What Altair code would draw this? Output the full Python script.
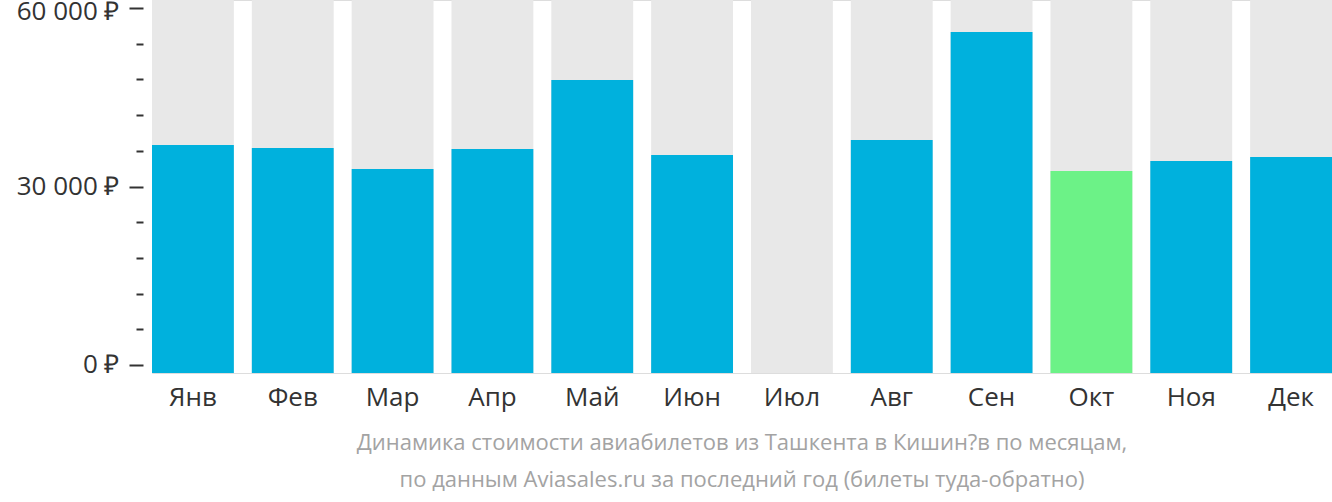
import altair as alt
import pandas as pd

months = ["Янв", "Фев", "Мар", "Апр", "Май", "Июн", "Июл", "Авг", "Сен", "Окт", "Ноя", "Дек"]
prices = [36980, 36470, 32940, 36300, 47900, 35290, None, 37820, 55970, 32600, 34290, 34960]
axis_min = -1345
axis_max = 61345
tick_values = list(range(0, 60001, 6000))
title_lines = [
    "Динамика стоимости авиабилетов из Ташкента в Кишин?в по месяцам,",
    "по данным Aviasales.ru за последний год (билеты туда-обратно)",
]

df = pd.DataFrame({"month": months, "price": prices})
min_price = df["price"].min()
df["cheapest"] = df["price"] == min_price
df["base"] = axis_min
df["top"] = axis_max

FONT = "Open Sans"

x_enc = alt.X(
    "month:N",
    sort=months,
    scale=alt.Scale(paddingInner=0.18, paddingOuter=0),
    axis=alt.Axis(
        title=None, domain=False, ticks=False, labelAngle=0,
        labelFontSize=26, labelColor="#333333", labelFont=FONT, labelPadding=11,
    ),
)
y_scale = alt.Scale(domain=[axis_min, axis_max], nice=False, zero=False)

bg = alt.Chart(df).mark_bar(color="#e8e8e8").encode(
    x=x_enc,
    y=alt.Y(
        "top:Q",
        scale=y_scale,
        axis=alt.Axis(
            title=None, values=tick_values, tickCount=len(tick_values) + 5,
            domain=False, grid=False,
            offset=9, labelOverlap=False,
            tickColor="#333333", tickWidth=2,
            tickSize={"condition": {"test": "datum.value % 30000 === 0", "value": 14}, "value": 7},
            labelOffset={"condition": {"test": "datum.value === 60000", "value": 3}, "value": 0},
            labelExpr="datum.value % 30000 === 0 ? replace(format(datum.value, ','), ',', ' ') + ' ₽' : ''",
            labelFontSize=26, labelColor="#333333", labelFont=FONT, labelPadding=10,
        ),
    ),
    y2="base:Q",
)

bars = alt.Chart(df).transform_filter("isValid(datum.price)").mark_bar().encode(
    x=alt.X("month:N", sort=months),
    y=alt.Y("price:Q", scale=y_scale),
    y2="base:Q",
    color=alt.condition("datum.cheapest", alt.value("#6cf287"), alt.value("#00b1dd")),
)

chart = alt.layer(bg, bars).properties(
    width=1180,
    height=373,
    autosize=alt.AutoSizeParams(type="none"),
    padding={"left": 152, "top": 0, "right": 0, "bottom": 129},
    title=alt.TitleParams(
        text=title_lines, orient="bottom", anchor="middle", fontSize=22,
        font=FONT, fontWeight="normal", color="#a3a3a3", lineHeight=37, offset=23,
    ),
).configure_view(stroke=None).configure(background="white")

chart.save("out.html", embed_options={"renderer": "svg", "actions": False})
